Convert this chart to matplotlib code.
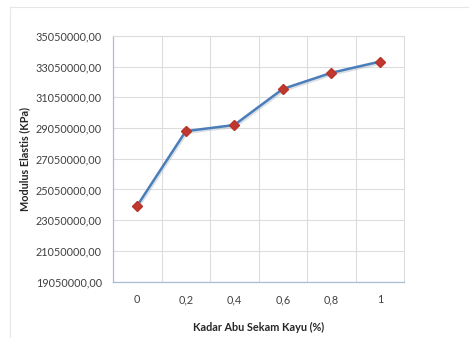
import matplotlib
matplotlib.use('Agg')
import matplotlib.pyplot as plt
import matplotlib.patheffects as pe
from matplotlib.ticker import FuncFormatter, FixedLocator
from matplotlib.lines import Line2D

plt.rcParams['font.family'] = ['Lato', 'DejaVu Sans']

# kadar abu sekam kayu vs modulus elastis
kadar = ['0', '0,2', '0,4', '0,6', '0,8', '1']
modulus = [24000000, 28850000, 29250000, 31600000, 32650000, 33380000]
y_ticks = [19050000, 21050000, 23050000, 25050000, 27050000,
           29050000, 31050000, 33050000, 35050000]

fig = plt.figure(figsize=(4.72, 3.38), dpi=100)
ax = fig.add_axes([0.2394, 0.167, 0.6166, 0.7265])

# thin frame around chart area
fig.add_artist(Line2D([10/472, 468/472], [1-7/338, 1-7/338], color='#e6e6e6', lw=0.8))
fig.add_artist(Line2D([10/472, 10/472], [0, 1-7/338], color='#e6e6e6', lw=0.8))

x = list(range(len(kadar)))
ax.plot(x, modulus, color='#4a7ebb', lw=1.8, zorder=3,
        path_effects=[pe.SimpleLineShadow(offset=(0.8, -1.2), shadow_color='#a8b2be', alpha=0.4),
                      pe.Normal()])
ax.plot(x, modulus, ls='none', marker='D', ms=5, color='#c0392f', mec='#b8332c', zorder=4)

ax.set_ylim(y_ticks[0], y_ticks[-1])
ax.set_xlim(-0.5, len(kadar) - 0.5)
ax.set_yticks(y_ticks)
ax.yaxis.set_major_formatter(FuncFormatter(lambda v, p: ('%.2f' % v).replace('.', ',')))
ax.set_xticks(x)
ax.set_xticklabels(kadar)
ax.xaxis.set_minor_locator(FixedLocator([i + 0.5 for i in range(len(kadar) - 1)]))

ax.grid(True, axis='y', which='major', color='#dcdcdc', lw=0.8)
ax.grid(True, axis='x', which='minor', color='#dcdcdc', lw=0.8)
ax.tick_params(axis='both', which='both', length=0, labelsize=7.8, colors='#404040', pad=8)
ax.tick_params(axis='x', pad=9)

for s in ['top', 'right']:
    ax.spines[s].set_color('#dcdcdc')
    ax.spines[s].set_linewidth(0.8)
for s in ['left', 'bottom']:
    ax.spines[s].set_color('#a9bdd4')
    ax.spines[s].set_linewidth(0.9)

ax.set_ylabel('Modulus Elastis (KPa)', fontsize=7.8, fontweight='bold', color='#262626', labelpad=4)
ax.set_xlabel('Kadar Abu Sekam Kayu (%)', fontsize=7.8, fontweight='bold', color='#262626', labelpad=12)

fig.savefig('out.png', dpi=100)
